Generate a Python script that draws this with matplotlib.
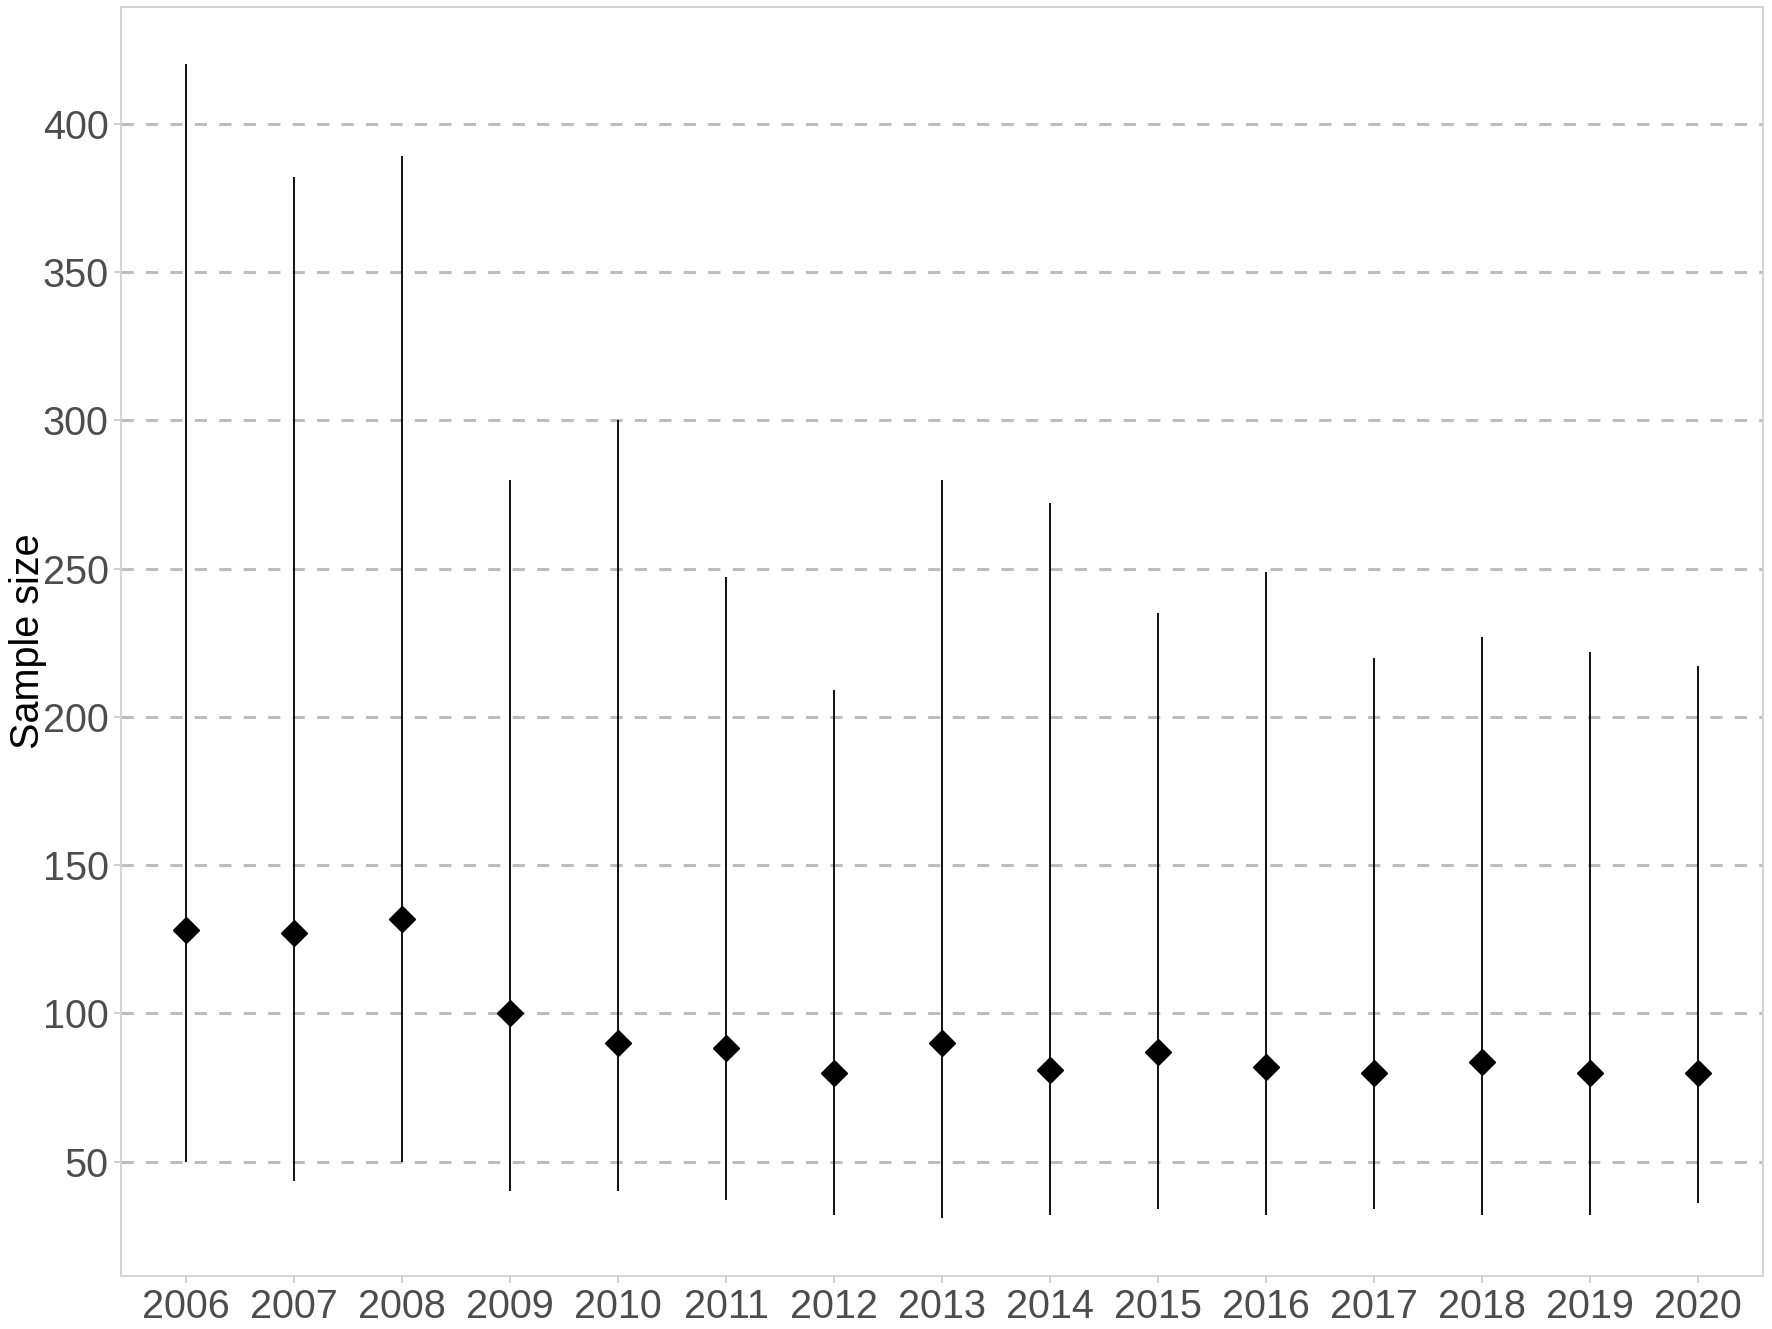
import numpy as np
import matplotlib.pyplot as plt

plt.rcParams['font.family'] = ['Liberation Sans', 'DejaVu Sans']

years = ['2006', '2007', '2008', '2009', '2010', '2011', '2012', '2013',
         '2014', '2015', '2016', '2017', '2018', '2019', '2020']
median_n = [128, 127, 132, 100, 90, 88.5, 80, 90, 81, 87, 82, 80, 83.5, 80, 80]
min_n = [50, 43.5, 50, 40, 40, 37, 32, 31, 32, 34, 32, 34, 32, 32, 36]
max_n = [420, 382, 389, 280, 300, 247, 209, 280, 272, 235, 249, 220, 227, 222, 217]

fig = plt.figure(figsize=(17.72, 13.29), dpi=100)
ax = fig.add_axes([0.0683, 0.040, 0.9267, 0.955])

x = np.arange(len(years))
ax.vlines(x, min_n, max_n, color='black', linewidth=1.3, zorder=3)
ax.plot(x, median_n, linestyle='none', marker='D', markersize=13.5,
        color='black', zorder=4)

# ggplot-like expansion
lo, hi = min(min_n), max(max_n)
pad = (hi - lo) * 0.05
ax.set_ylim(lo - pad, hi + pad)
ax.set_xlim(-0.6, len(years) - 1 + 0.6)

ax.set_xticks(x)
ax.set_xticklabels(years)
ax.set_yticks([50, 100, 150, 200, 250, 300, 350, 400])
ax.yaxis.grid(True, color='#bdbdbd', linestyle=(0, (4, 4)), linewidth=2.2)
ax.xaxis.grid(False)
ax.set_axisbelow(True)

for s in ax.spines.values():
    s.set_color('#d0d0d0')
    s.set_linewidth(1.3)

ax.tick_params(axis='both', labelsize=28.5, colors='#4d4d4d', length=5,
               width=1.2, pad=4)
ax.tick_params(axis='both', color='#c8c8c8')
ax.set_ylabel('Sample size', fontsize=28.5, color='black', labelpad=-3)

fig.savefig('out.png', dpi=100)
